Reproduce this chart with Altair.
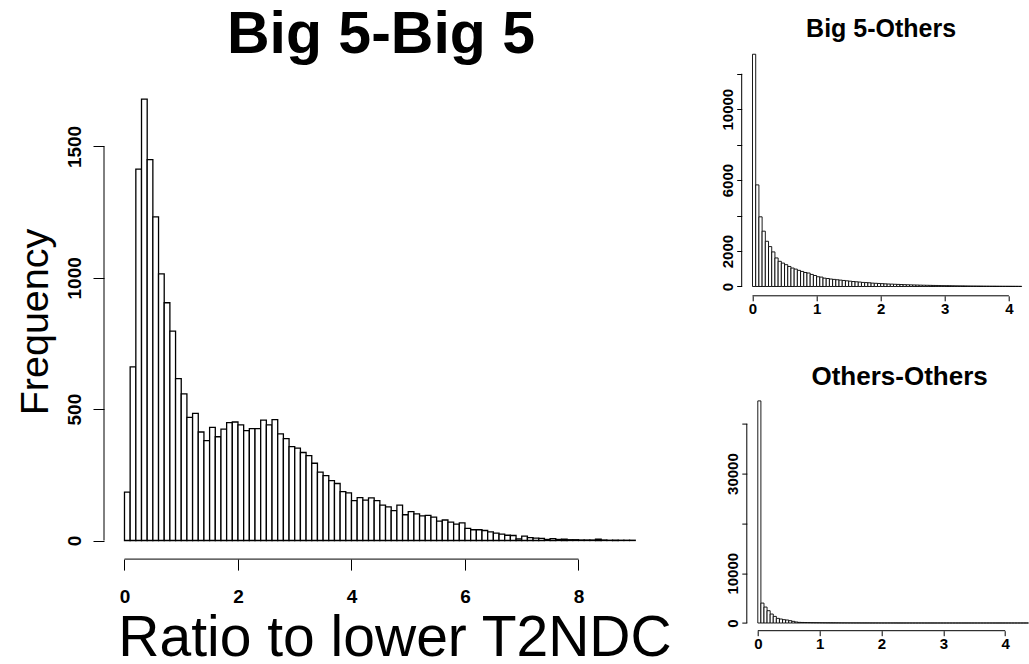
import altair as alt
import pandas as pd

FONT = "Liberation Sans"

# ---- data ----
main_counts = [184, 661, 1414, 1680, 1450, 1232, 1015, 905, 797, 616,
               558, 469, 484, 413, 380, 431, 395, 424, 449, 451,
               440, 418, 426, 426, 458, 440, 460, 406, 388, 357,
               352, 335, 323, 294, 260, 247, 228, 217, 186, 181,
               152, 163, 154, 162, 152, 135, 128, 114, 135, 98,
               110, 101, 94, 96, 89, 74, 78, 70, 62, 67,
               46, 41, 41, 38, 33, 28, 24, 20, 19, 6,
               17, 11, 9, 8, 4, 7, 4, 5, 3, 3,
               2, 2, 2, 5, 2, 1, 1, 1, 1, 1]
main_binw = 0.1

b5o_counts = [13100, 5730, 3930, 3120, 2550, 2250, 1950, 1610, 1420, 1320,
              1230, 1130, 1040, 980, 910, 850, 790, 760, 680, 620,
              550, 530, 470, 450, 420, 400, 380, 360, 340, 320,
              300, 280, 265, 250, 230, 220, 210, 190, 180, 170,
              160, 150, 140, 135, 125, 118, 110, 104, 98, 92,
              86, 82, 77, 72, 68, 64, 60, 57, 54, 50,
              47, 45, 42, 40, 37, 35, 33, 31, 29, 28,
              26, 25, 23, 22, 20, 19, 18, 17, 16, 15,
              14, 13, 12, 11]
b5o_binw = 0.05

oo_counts = [44600, 4000, 3200, 2470, 1800, 1330, 930, 800, 670, 600,
             470, 330, 200, 130, 110, 95, 85, 75, 68, 60,
             54, 48, 43, 39, 35, 32, 29, 26, 24, 22,
             20, 18, 17, 15, 14, 13, 12, 11, 10, 9,
             9, 8, 8, 7, 7, 6, 6, 5, 5, 5,
             4, 4, 4, 4, 3, 3, 3, 3, 3, 2,
             2, 2, 2, 2, 2, 2, 2, 1, 1, 1,
             1, 1, 1, 1, 1, 1, 1, 1, 1, 1,
             1, 1, 1, 1, 1, 1, 1, 1]
oo_binw = 0.05

main_xticks = [0, 2, 4, 6, 8]
main_yticks = [0, 500, 1000, 1500]
b5o_xticks = [0, 1, 2, 3, 4]
b5o_yticks = [0, 2000, 4000, 6000, 8000, 10000, 12000]
oo_xticks = [0, 1, 2, 3, 4]
oo_yticks = [0, 10000, 20000, 30000, 40000]


def hist_df(counts, w):
    return pd.DataFrame({
        "start": [i * w for i in range(len(counts))],
        "end": [(i + 1) * w for i in range(len(counts))],
        "count": counts,
    })


def panel(counts, binw, xdom, ydom, xticks, yticks, W, H, title,
          tick, lab_size, xlab_pad, ylab_pad, bar_sw, ylabel_expr=None,
          yaxis_offset=0, xtitle=None, ytitle=None):
    df = hist_df(counts, binw)
    xs = alt.Scale(domain=xdom, nice=False, zero=False)
    ys = alt.Scale(domain=ydom, nice=False, zero=False)
    common = dict(domain=False, grid=False, tickColor="black", tickWidth=1,
                  tickSize=tick, labelColor="black", labelFont=FONT,
                  labelFontWeight="bold", labelFontSize=lab_size,
                  labelFlush=False, labelOverlap=False, format="d")
    xaxis_kw = dict(values=xticks, labelPadding=xlab_pad, **common)
    yaxis_kw = dict(values=yticks, labelPadding=ylab_pad, labelAngle=270,
                    labelAlign="center", labelBaseline="alphabetic",
                    offset=yaxis_offset, **common)
    if ylabel_expr:
        yaxis_kw["labelExpr"] = ylabel_expr
    if xtitle:
        xaxis_kw.update(xtitle)
    else:
        xaxis_kw["title"] = None
    if ytitle:
        yaxis_kw.update(ytitle)
    else:
        yaxis_kw["title"] = None

    bars = alt.Chart(df).mark_rect(
        fill="white", stroke="black", strokeWidth=bar_sw, clip=True
    ).encode(
        x=alt.X("start:Q", scale=xs, axis=alt.Axis(**xaxis_kw)),
        x2="end:Q",
        y=alt.Y("count:Q", scale=ys, axis=alt.Axis(**yaxis_kw)),
        y2=alt.datum(0),
    )
    xl = alt.Chart(pd.DataFrame({"start": [xticks[0]], "end": [xticks[-1]]})).mark_rule(
        color="black", strokeWidth=1
    ).encode(
        x=alt.X("start:Q", scale=xs), x2="end:Q", y=alt.value(H)
    )
    yl = alt.Chart(pd.DataFrame({"count": [yticks[0]], "top": [yticks[-1]]})).mark_rule(
        color="black", strokeWidth=1
    ).encode(
        y=alt.Y("count:Q", scale=ys), y2="top:Q", x=alt.value(-yaxis_offset)
    )
    return alt.layer(bars, xl, yl).properties(width=W, height=H, title=title)


main = panel(
    main_counts, main_binw, [-0.361, 9.366], [-70.8, 1886.2],
    main_xticks, main_yticks, 552, 514.1,
    alt.TitleParams("Big 5-Big 5", font=FONT, fontSize=59, fontWeight="bold",
                    color="black", anchor="middle", frame="group",
                    baseline="alphabetic", offset=-67, dx=1),
    tick=11, lab_size=19, xlab_pad=17, ylab_pad=13, bar_sw=1.3,
    xtitle=dict(title="Ratio to lower T2NDC", titleFont=FONT, titleFontSize=57,
                titleFontWeight="normal", titleColor="black", titleAlign="center",
                titleBaseline="alphabetic", titleAngle=0, titleX=290.5, titleY=96.5),
    ytitle=dict(title="Frequency", titleFont=FONT, titleFontSize=39.5,
                titleFontWeight="normal", titleColor="black", titleAlign="center",
                titleBaseline="alphabetic", titleAngle=270, titleX=-56.5, titleY=276.5),
)

s1 = panel(
    b5o_counts, b5o_binw, [-0.1685, 4.306], [-525, 13621],
    b5o_xticks, b5o_yticks, 286.8, 250.8,
    alt.TitleParams("Big 5-Others", font=FONT, fontSize=25, fontWeight="bold",
                    color="black", anchor="middle", frame="group",
                    baseline="alphabetic", offset=-17, dx=-4),
    tick=5, lab_size=15, xlab_pad=1, ylab_pad=4, bar_sw=0.9,
    ylabel_expr="(datum.value == 4000 || datum.value == 8000 || datum.value == 12000) ? '' : datum.label",
)

s2 = panel(
    oo_counts, oo_binw, [-0.2603, 4.377], [-1546, 46466],
    oo_xticks, oo_yticks, 286.8, 239.1,
    alt.TitleParams("Others-Others", font=FONT, fontSize=26, fontWeight="bold",
                    color="black", anchor="middle", frame="group",
                    baseline="alphabetic", offset=-19.5, dx=14.5),
    tick=5, lab_size=15, xlab_pad=1, ylab_pad=4, bar_sw=0.9,
    ylabel_expr="(datum.value == 20000 || datum.value == 40000) ? '' : datum.label",
    yaxis_offset=-5.1,
)

right = alt.vconcat(s1, s2, spacing=95.6, bounds="flush")
chart = alt.hconcat(main, right, spacing=85.7, bounds="flush").properties(
    padding={"left": 15, "top": 6, "right": 0, "bottom": 0},
    background="white",
).configure_view(stroke=None)

chart.save("out.html", embed_options={"renderer": "svg", "actions": False})
